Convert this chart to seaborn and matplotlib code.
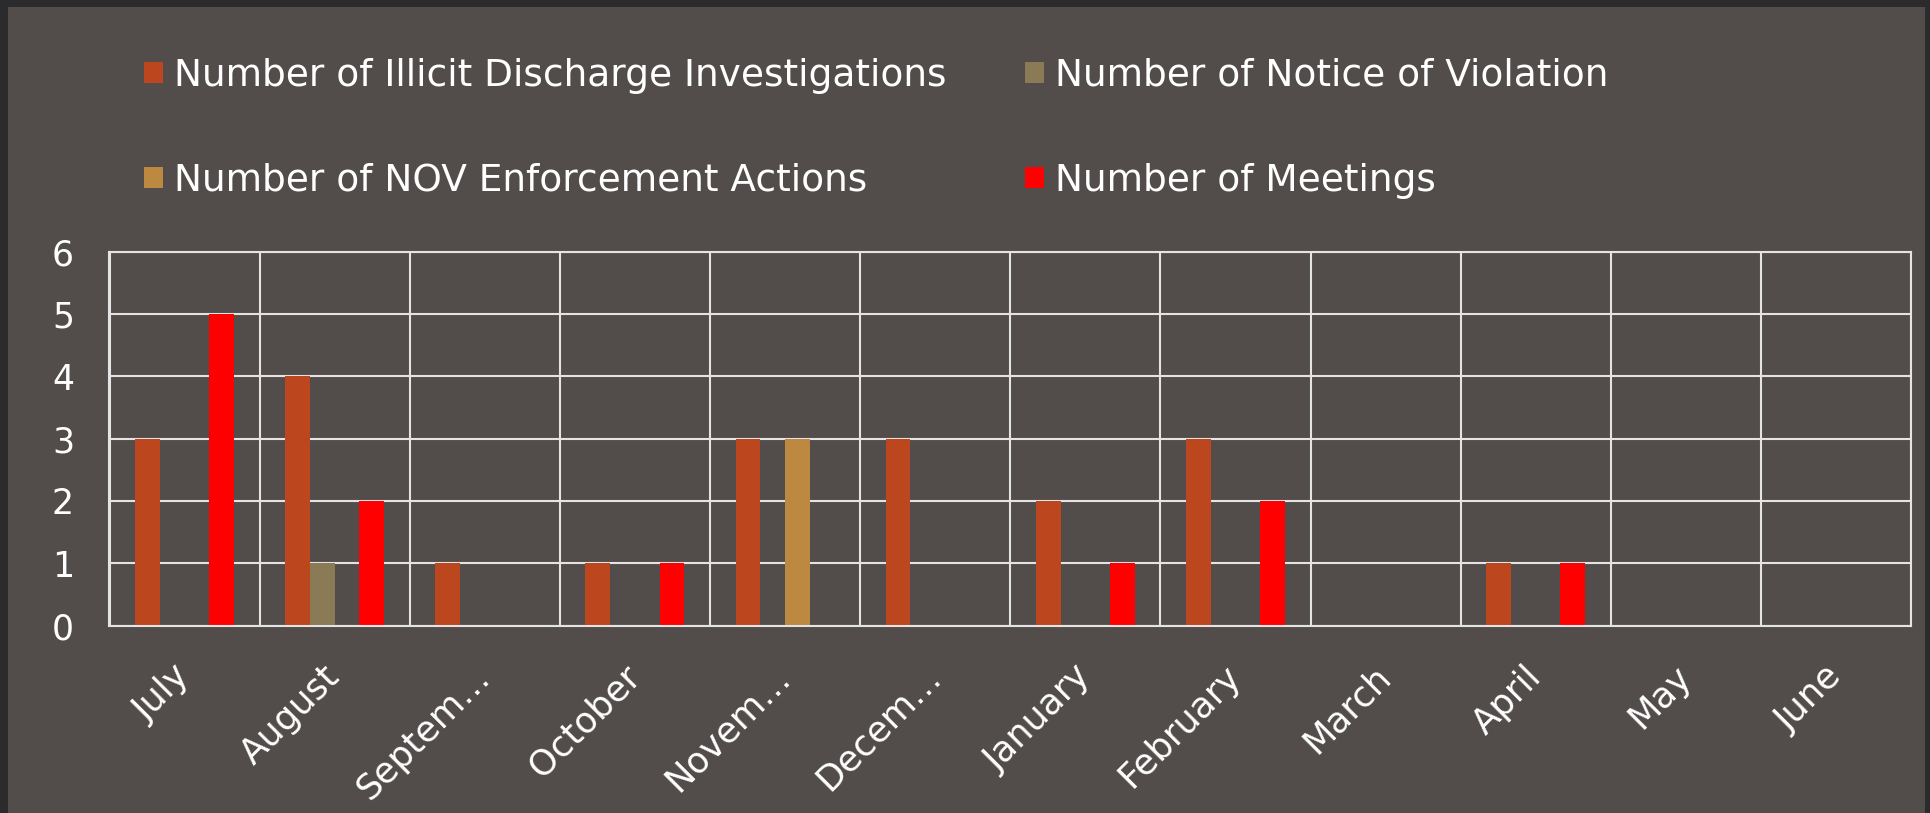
import matplotlib
matplotlib.use("Agg")
import matplotlib.pyplot as plt
from matplotlib.patches import Patch, Rectangle
from matplotlib.ticker import FixedLocator
import numpy as np
import pandas as pd
import seaborn as sns

# Monthly stormwater program activity
months = ["July", "August", "Septem…", "October", "Novem…", "Decem…",
          "January", "February", "March", "April", "May", "June"]
illicit_investigations = [3, 4, 1, 1, 3, 3, 2, 3, 0, 1, 0, 0]
notices_of_violation = [0, 1, 0, 0, 0, 0, 0, 0, 0, 0, 0, 0]
nov_enforcement_actions = [0, 0, 0, 0, 3, 0, 0, 0, 0, 0, 0, 0]
meetings = [5, 2, 0, 1, 0, 0, 1, 2, 0, 1, 0, 0]

series_names = ["Number of Illicit Discharge Investigations",
                "Number of Notice of Violation",
                "Number of NOV Enforcement Actions",
                "Number of Meetings"]
series_values = [illicit_investigations, notices_of_violation,
                 nov_enforcement_actions, meetings]
series_colors = ["#BC461D", "#8A7A55", "#BD8840", "#FF0000"]

df = pd.DataFrame({
    "Month": np.tile(months, len(series_names)),
    "Series": np.repeat(series_names, len(months)),
    "Count": np.concatenate(series_values),
})

sns.set_theme(style="white")
plt.rcParams["font.family"] = ["DejaVu Sans"]

W, H, DPI = 1931, 813, 100
fig = plt.figure(figsize=(W / DPI, H / DPI), dpi=DPI)
fig.patch.set_facecolor("#2B2A2C")
# slide panel inside the dark frame
fig.patches.append(Rectangle((8 / W, 0), (W - 14) / W, (H - 7) / H,
                             transform=fig.transFigure, facecolor="#524D4B",
                             edgecolor="none", zorder=-5))

ax = fig.add_axes([109.5 / W, 187.5 / H, (1911 - 109.5) / W, (625.5 - 252) / H])
ax.set_facecolor("none")
ax.set_zorder(2)

sns.barplot(data=df, x="Month", y="Count", hue="Series", order=months,
            hue_order=series_names, palette=series_colors, width=0.66,
            saturation=1, linewidth=0, legend=False, ax=ax)

grid_c = "#E4E4E4"
lw = 1.5
ax.set_xlim(-0.5, len(months) - 0.5)
ax.set_ylim(0, 6)
ax.set_yticks(range(0, 7))
ax.set_axisbelow(True)

ax.xaxis.set_minor_locator(FixedLocator(np.arange(-0.5, len(months), 1.0)))
ax.grid(True, axis="y", which="major", color=grid_c, linewidth=lw)
ax.grid(True, axis="x", which="minor", color=grid_c, linewidth=lw)
ax.grid(False, axis="x", which="major")

for side in ["left", "right", "top", "bottom"]:
    ax.spines[side].set_visible(True)
    ax.spines[side].set_color(grid_c)
    ax.spines[side].set_linewidth(lw)

ax.tick_params(axis="y", which="major", direction="out", length=9.5,
               width=lw, color=grid_c, labelcolor="white", labelsize=25, pad=16)
ax.tick_params(axis="x", which="minor", direction="out", length=9.5,
               width=lw, color=grid_c)
ax.tick_params(axis="x", which="major", length=0, labelcolor="white",
               labelsize=25.5, pad=33)
for lab in ax.get_xticklabels():
    lab.set_rotation(45)
    lab.set_ha("right")
    lab.set_va("center")
    lab.set_rotation_mode("anchor")

ax.set_xlabel("")
ax.set_ylabel("")

# Two-row legend above the plot, read left-to-right
handles = [Patch(facecolor=c, edgecolor="none") for c in series_colors]
order = [0, 2, 1, 3]
leg = fig.legend([handles[i] for i in order], [series_names[i] for i in order],
                 ncol=2, loc="upper left", bbox_to_anchor=(144 / W, 1 - 58 / H),
                 frameon=False, fontsize=27, labelcolor="white",
                 handlelength=0.5, handleheight=0.5, handletextpad=0.3,
                 labelspacing=1.83, columnspacing=2.1, borderpad=0,
                 borderaxespad=0)

fig.savefig("out.png", dpi=DPI, facecolor=fig.get_facecolor())
